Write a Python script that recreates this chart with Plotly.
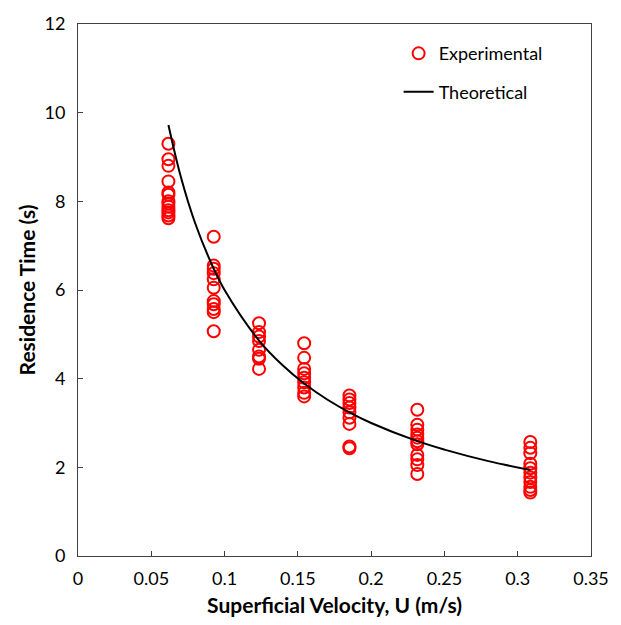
import plotly.graph_objects as go

# Superficial velocity levels (m/s) and measured residence times (s)
u_levels = [0.0617, 0.0926, 0.1235, 0.1543, 0.1852, 0.2315, 0.3086]
t_exp = [
    [9.30, 8.95, 8.80, 8.45, 8.20, 8.15, 8.00, 7.95, 7.88, 7.80, 7.75, 7.68, 7.62],
    [7.20, 6.55, 6.48, 6.38, 6.24, 6.05, 5.75, 5.68, 5.57, 5.50, 5.07],
    [5.25, 5.05, 4.95, 4.85, 4.65, 4.50, 4.45, 4.22],
    [4.80, 4.47, 4.22, 4.12, 4.02, 3.92, 3.80, 3.68, 3.60],
    [3.62, 3.53, 3.45, 3.35, 3.24, 3.12, 2.98, 2.47, 2.43],
    [3.30, 2.96, 2.85, 2.74, 2.67, 2.59, 2.52, 2.28, 2.18, 2.05, 1.85],
    [2.57, 2.44, 2.32, 2.08, 1.98, 1.88, 1.77, 1.67, 1.56, 1.49, 1.43],
]

# Theoretical residence-time curve
u_theory = [0.0617, 0.07, 0.08, 0.0926, 0.10, 0.1235, 0.14, 0.1543, 0.17,
            0.1852, 0.20, 0.2315, 0.25, 0.28, 0.3086]
t_theory = [9.72, 8.57, 7.50, 6.48, 6.00, 4.86, 4.29, 3.89, 3.53,
            3.24, 3.00, 2.59, 2.40, 2.14, 1.94]

x_ticks = [0, 0.05, 0.1, 0.15, 0.2, 0.25, 0.3, 0.35]
x_tick_text = ["0", "0.05", "0.1", "0.15", "0.2", "0.25", "0.3", "0.35"]
y_ticks = [0, 2, 4, 6, 8, 10, 12]

xs, ys = [], []
for u, vals in zip(u_levels, t_exp):
    xs += [u] * len(vals)
    ys += vals

FONT = "Lato, 'Open Sans', sans-serif"

fig = go.Figure()
fig.add_trace(go.Scatter(
    x=xs, y=ys, mode="markers", name="Experimental", legendgroup="a",
    marker=dict(symbol="circle-open", size=12, color="#FF0000",
                line=dict(width=2, color="#FF0000")),
))
fig.add_trace(go.Scatter(
    x=u_theory, y=t_theory, mode="lines", name="Theoretical", legendgroup="b",
    line=dict(color="black", width=2, shape="spline"),
))

axis_common = dict(
    showline=True, linecolor="#404040", linewidth=1, mirror=True,
    showgrid=False, zeroline=False, ticks="inside", ticklen=5,
    tickcolor="#404040", tickfont=dict(family=FONT, size=18, color="black"),
)

fig.update_layout(
    width=621, height=625,
    margin=dict(l=78, r=20, t=19, b=69),
    paper_bgcolor="white", plot_bgcolor="white",
    font=dict(family=FONT, color="black"),
    xaxis=dict(range=[0, 0.35], tickvals=x_ticks, ticktext=x_tick_text,
               ticklabelstandoff=6,
               title=dict(text="<b>Superficial Velocity, U (m/s)</b>",
                          font=dict(family=FONT, size=21), standoff=10),
               **axis_common),
    yaxis=dict(range=[0, 12], tickvals=y_ticks, ticklabelstandoff=8,
               title=dict(text="<b>Residence Time (s)</b>",
                          font=dict(family=FONT, size=21), standoff=3),
               **axis_common),
    legend=dict(x=0.625, y=0.979, xanchor="left", yanchor="top",
                bgcolor="rgba(0,0,0,0)", traceorder="grouped",
                tracegroupgap=12, font=dict(family=FONT, size=18)),
)

fig.write_html("out.html")
